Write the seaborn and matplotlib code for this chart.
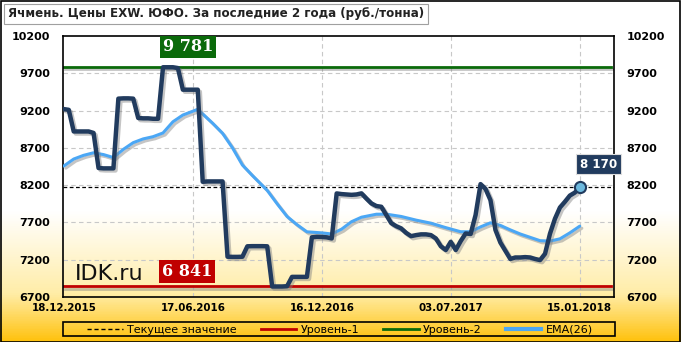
import numpy as np
import pandas as pd
import matplotlib
matplotlib.use("Agg")
import matplotlib.pyplot as plt
import matplotlib.patheffects as pe
from matplotlib.lines import Line2D
from matplotlib.colors import LinearSegmentedColormap
from matplotlib.patches import Rectangle
import seaborn as sns

# ---------------- data ----------------
title = "Ячмень. Цены EXW. ЮФО. За последние 2 года (руб./тонна)"
tick_labels = ["18.12.2015", "17.06.2016", "16.12.2016", "03.07.2017", "15.01.2018"]
tick_index = [0, 26, 52, 78, 104]

price = [9220, 9210, 8920, 8920, 8920, 8920, 8900, 8430, 8425, 8425,
         8425, 9360, 9364, 9364, 9360, 9100, 9096, 9096, 9090, 9090,
         9781, 9781, 9781, 9770, 9480, 9480, 9480, 9480, 8245, 8250,
         8250, 8250, 8250, 7240, 7238, 7238, 7240, 7380, 7382, 7382,
         7382, 7380, 6841, 6841, 6841, 6845, 6970, 6970, 6970, 6970,
         7500, 7507, 7505, 7500, 7485, 8089, 8080, 8075, 8070, 8075,
         8090, 8020, 7955, 7920, 7910, 7800, 7690, 7650, 7620, 7560,
         7516, 7530, 7540, 7540, 7530, 7485, 7380, 7330, 7440, 7330,
         7450, 7552, 7545, 7800, 8214, 8150, 7999, 7600, 7430, 7320,
         7210, 7230, 7230, 7235, 7230, 7210, 7195, 7280, 7550, 7750,
         7900, 7977, 8060, 8100, 8170]

ema_index = [0, 2, 4, 6, 8, 10, 12, 14, 16, 18, 20, 22, 24, 27, 30, 32, 34, 36,
             38, 41, 43, 45, 47, 49, 52, 54, 56, 58, 60, 63, 65, 68, 71, 74,
             77, 80, 82, 84, 86, 88, 90, 92, 94, 96, 98, 100, 102, 104]
ema_value = [8456, 8550, 8600, 8634, 8610, 8570, 8680, 8770, 8820, 8850, 8900,
             9050, 9140, 9217, 9030, 8895, 8700, 8470, 8330, 8130, 7950, 7780,
             7670, 7574, 7560, 7545, 7610, 7710, 7770, 7810, 7811, 7780, 7731,
             7690, 7630, 7575, 7575, 7640, 7695, 7660, 7600, 7545, 7500, 7455,
             7450, 7480, 7560, 7650]

level1 = 6841
level2 = 9781
current = price[-1]
y_ticks = [6700, 7200, 7700, 8200, 8700, 9200, 9700, 10200]

legend_labels = ["Текущее значение", "Уровень-1", "Уровень-2", "EMA(26)"]

# ---------------- styling ----------------
C_PRICE = "#213B5E"
C_EMA = "#4BA7F5"
C_L1 = "#C00000"
C_L2 = "#0A6A0A"

W, H = 681, 342
fig = plt.figure(figsize=(W / 100, H / 100), dpi=100)

# background gradient
bg = fig.add_axes([0, 0, 1, 1], zorder=-10)
cmap = LinearSegmentedColormap.from_list(
    "bg", [(0.0, "#FFFFFF"), (0.62, "#FFFFFF"), (0.86, "#FFEDA8"), (1.0, "#FFC20E")])
grad = np.linspace(0, 1, 400).reshape(-1, 1)
bg.imshow(grad, aspect="auto", cmap=cmap, extent=[0, 1, 1, 0])
bg.set_xlim(0, 1); bg.set_ylim(1, 0)
bg.axis("off")

L, R, T, B = 63, 614, 36, 297
ax = fig.add_axes([L / W, 1 - B / H, (R - L) / W, (B - T) / H])
ax.set_facecolor("none")

df = pd.DataFrame({"idx": np.arange(len(price)), "price": price})
dfe = pd.DataFrame({"idx": ema_index, "ema": ema_value})

shadow = [pe.SimpleLineShadow(offset=(1.5, -1.5), shadow_color="#7f7f7f", alpha=0.45), pe.Normal()]

# grid
for yv in y_ticks[1:-1]:
    ax.axhline(yv, color="#C8C8C8", lw=0.8, ls=(0, (4, 3)), zorder=1)
for xv in tick_index[1:]:
    ax.axvline(xv, color="#C8C8C8", lw=0.8, ls=(0, (4, 3)), zorder=1)

ax.axhline(level2, color=C_L2, lw=2, zorder=2, xmax=0.995, path_effects=shadow)
ax.axhline(level1, color=C_L1, lw=2, zorder=2, xmax=0.995, path_effects=shadow)
ax.axhline(current, color="black", lw=0.9, ls=(0, (3, 2)), zorder=2)

sns.lineplot(data=dfe, x="idx", y="ema", ax=ax, color=C_EMA, lw=2.2, zorder=3,
             path_effects=shadow, solid_joinstyle="round", solid_capstyle="round")
sns.lineplot(data=df, x="idx", y="price", ax=ax, color=C_PRICE, lw=3.2, zorder=4,
             path_effects=shadow, solid_joinstyle="round", solid_capstyle="round")
ax.plot([df["idx"].iloc[-1]], [current], marker="o", ms=8, mfc="#6DB9DE", mec=C_PRICE,
        mew=1.5, zorder=6, clip_on=False)

ax.set_xlim(-0.16, 110.9)
ax.set_ylim(6700, 10200)
ax.set_yticks(y_ticks)
ax.set_xticks(tick_index)
ax.set_xticklabels(tick_labels)
ax.set_xlabel(""); ax.set_ylabel("")
ax.tick_params(axis="both", length=0)
ax.tick_params(axis="y", labelleft=True, labelright=True, pad=9)
ax.tick_params(axis="x", pad=4)
for lab in ax.get_yticklabels():
    lab.set_fontfamily("DejaVu Sans"); lab.set_fontweight("bold"); lab.set_fontsize(8)
for lab in ax.get_xticklabels():
    lab.set_fontfamily("DejaVu Sans"); lab.set_fontweight("bold"); lab.set_fontsize(7.4)
for sp in ax.spines.values():
    sp.set_color("black"); sp.set_linewidth(1.2)

def fmt(v):
    return f"{v:,}".replace(",", " ")

ax.text(25, level2 + 272, fmt(level2), color="white", fontsize=11.5, fontweight="bold",
        family="DejaVu Serif", ha="center", va="center", zorder=7,
        bbox=dict(boxstyle="square,pad=0.18", fc=C_L2, ec="none"))
ax.text(24.9, level1 + 205, fmt(level1), color="white", fontsize=11.5, fontweight="bold",
        family="DejaVu Serif", ha="center", va="center", zorder=7,
        bbox=dict(boxstyle="square,pad=0.18", fc=C_L1, ec="none"))
ax.text(107.8, current + 313, fmt(current), color="white", fontsize=8.6, fontweight="bold",
        family="DejaVu Sans", ha="center", va="center", zorder=8, clip_on=False,
        bbox=dict(boxstyle="square,pad=0.3", fc=C_PRICE, ec="#DDDDDD", lw=0.8))
ax.text(0.022, 0.065, "IDK.ru", transform=ax.transAxes, fontsize=16, color="#111111",
        family="DejaVu Sans", ha="left", va="baseline", zorder=7)

# title
fig.text(8 / W, 1 - 14 / H, title, fontsize=8.6, fontweight="bold", family="DejaVu Sans",
         color="#222222", ha="left", va="center",
         bbox=dict(boxstyle="square,pad=0.3", fc="white", ec="#A0A0A0", lw=0.8))

# legend
handles = [
    Line2D([], [], color="black", lw=1, ls=(0, (3, 2))),
    Line2D([], [], color=C_L1, lw=2),
    Line2D([], [], color=C_L2, lw=2),
    Line2D([], [], color=C_EMA, lw=3),
]
leg = fig.legend(handles, legend_labels, loc="lower left",
                 bbox_to_anchor=(86 / W, 1 - 336 / H, (594 - 86) / W, 14 / H),
                 mode="expand", ncol=4, borderaxespad=0, frameon=False,
                 prop={"family": "DejaVu Sans", "size": 8}, handlelength=3.2,
                 handletextpad=0.4, borderpad=0.1)
fig.patches.append(Rectangle((L / W, 1 - 336 / H), (615 - L) / W, 14 / H,
                             transform=fig.transFigure, fill=False, ec="black", lw=1.2))

# figure border
fig.patches.append(Rectangle((0.5 / W, 0.5 / H), 1 - 1.5 / W, 1 - 1.5 / H,
                             transform=fig.transFigure, fill=False, ec="black", lw=1.2))

fig.savefig("out.png", dpi=100)
